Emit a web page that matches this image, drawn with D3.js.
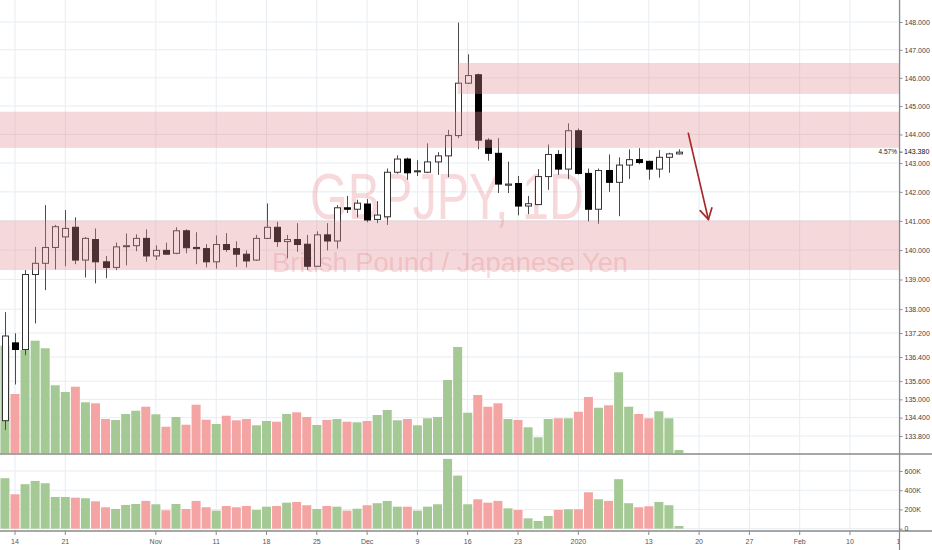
<!DOCTYPE html>
<html>
<head>
<meta charset="utf-8">
<script src="https://cdn.jsdelivr.net/npm/d3@7"></script>
<style>
  html, body { margin: 0; padding: 0; background: #fff; }
  svg { display: block; font-family: "Liberation Sans", Arial, sans-serif; }
</style>
</head>
<body>
<div id="chart"></div>
<script>
// ── Data ─────────────────────────────────────────
const days = [
  "2019-10-11","2019-10-14","2019-10-15","2019-10-16","2019-10-17","2019-10-18",
  "2019-10-21","2019-10-22","2019-10-23","2019-10-24","2019-10-25",
  "2019-10-28","2019-10-29","2019-10-30","2019-10-31","2019-11-01",
  "2019-11-04","2019-11-05","2019-11-06","2019-11-07","2019-11-08",
  "2019-11-11","2019-11-12","2019-11-13","2019-11-14","2019-11-15",
  "2019-11-18","2019-11-19","2019-11-20","2019-11-21","2019-11-22",
  "2019-11-25","2019-11-26","2019-11-27","2019-11-28","2019-11-29",
  "2019-12-02","2019-12-03","2019-12-04","2019-12-05","2019-12-06",
  "2019-12-09","2019-12-10","2019-12-11","2019-12-12","2019-12-13",
  "2019-12-16","2019-12-17","2019-12-18","2019-12-19","2019-12-20",
  "2019-12-23","2019-12-24","2019-12-26","2019-12-27","2019-12-30","2019-12-31",
  "2020-01-02","2020-01-03","2020-01-06","2020-01-07","2020-01-08","2020-01-09","2020-01-10",
  "2020-01-13","2020-01-14","2020-01-15","2020-01-16"
];

const open = [
  134.30,136.87,136.65,139.17,139.55,140.09,140.45,140.78,139.66,140.36,
  139.60,139.41,140.12,140.15,140.40,139.80,139.99,139.89,140.66,140.09,
  140.05,139.60,140.19,140.05,139.86,139.66,140.40,140.78,140.29,140.36,
  140.20,139.45,140.52,140.31,141.45,141.40,141.58,141.05,141.14,142.68,
  143.14,142.70,142.68,143.04,143.25,143.96,145.81,146.11,143.80,143.34,
  142.23,142.29,141.51,141.56,142.53,143.30,142.79,144.13,142.64,141.40,
  142.74,142.33,142.93,143.12,143.06,142.79,143.20,143.32
];
const high = [
  137.90,137.19,139.32,140.11,141.54,140.86,141.37,141.12,140.45,140.74,
  139.80,140.26,140.57,140.54,140.71,140.16,140.25,140.78,140.71,140.61,
  140.20,140.50,140.58,140.30,139.99,140.52,141.60,140.97,140.52,140.92,
  140.52,140.64,140.92,141.54,141.86,141.73,141.75,141.68,142.81,143.27,
  143.19,143.10,143.69,143.38,144.16,147.98,146.84,146.15,143.87,143.87,
  143.05,142.55,141.86,142.79,143.65,143.45,144.39,144.21,142.81,142.81,
  143.30,143.20,143.48,143.52,143.08,143.45,143.36,143.48
];
const low = [
  134.00,135.49,136.46,137.52,138.64,139.34,139.45,139.52,139.07,138.87,
  139.04,139.32,139.48,139.96,139.60,139.66,139.85,139.86,139.89,139.52,
  139.41,139.37,139.94,139.43,139.41,139.63,140.38,140.11,139.72,139.94,
  139.32,139.43,139.99,140.05,141.27,141.12,140.95,140.92,140.86,142.63,
  142.42,142.55,142.65,142.59,142.51,143.87,145.78,143.48,143.08,141.96,
  141.96,141.19,141.23,141.56,142.07,142.59,142.45,142.60,140.98,140.90,
  142.00,141.16,142.45,142.96,142.42,142.49,142.66,143.30
];
const close = [
  137.10,136.65,139.17,139.55,140.09,140.80,140.74,139.66,140.40,139.60,
  139.41,140.11,140.15,140.40,139.80,139.99,139.86,140.66,140.08,140.05,
  139.60,140.19,140.02,139.86,139.63,140.40,140.78,140.29,140.36,140.19,
  139.45,140.52,140.31,141.45,141.40,141.61,141.03,141.20,142.68,143.14,
  142.66,142.73,143.04,143.25,143.96,145.81,146.08,143.80,143.34,142.27,
  142.27,141.51,141.59,142.53,143.30,142.79,144.13,142.64,141.40,142.74,
  142.33,142.93,143.12,143.02,142.79,143.20,143.32,143.38
];

// volume drawn on the price pane (own scale)
const volMain = [
  753,415,723,788,735,476,429,466,357,350,
  240,233,275,298,326,273,186,254,200,340,
  235,205,263,231,240,196,226,221,275,287,
  254,198,233,240,221,217,226,268,303,231,
  240,196,245,254,513,744,284,408,326,350,
  240,233,182,112,240,245,245,291,394,319,
  336,567,326,275,245,294,245,23
];
// volume pane (thousands)
const volPane = [
  525,358,463,497,473,330,330,323,317,285,
  223,205,247,257,289,254,192,257,205,289,
  223,188,236,223,236,195,229,236,271,278,
  244,205,236,229,188,208,244,265,289,229,
  229,188,229,254,726,552,254,306,271,289,
  212,195,108,80,132,195,202,202,379,306,
  289,515,265,223,233,278,244,28
];

const priceTicks = [148,147,146,145,144,143,142,141,140,139,138,137.2,136.4,135.6,135,134.4,133.8];
const volTicks   = [0,200,400,600];
const timeLabels = ["14","21","Nov","11","18","25","Dec","9","16","23","2020","13","20","27","Feb","10","17"];
const timeBars   = [1,6,15,21,26,31,36,41,46,51,57,64,69,74,79,84,89];

// support / resistance zones (start bar, -1 = before chart)
const zoneStart  = [45, -1, -1];
const zoneTop    = [146.53, 144.80, 141.01];
const zoneBottom = [145.43, 143.53, 139.32];

// drawn arrow (bar index, price)
const arrowFrom = [67.93, 144.04];
const arrowTo   = [69.92, 141.05];

const lastPrice  = 143.38;
const lastChange = "4.57%";

// ── Layout ───────────────────────────────────────
const W = 932, H = 550;
const AXIS_X = 899;
const MAIN_BOTTOM = 454;
const PANE_TOP = 455, PANE_BOTTOM = 531;
const GRID = "#e7edf3";
const FONT = "'Liberation Sans', Arial, sans-serif";

const x = d3.scaleLinear().domain([0, 89]).range([4.94, 900.3]);
const y = d3.scaleLog().domain([133.8, 148]).range([436, 22]);
const yVolMain = d3.scaleLinear().domain([0, 1000]).range([453.3, 310.4]);
const yVolPane = d3.scaleLinear().domain([0, 600]).range([528.7, 471]);

const up = i => close[i] >= open[i];
const idx = d3.range(days.length);

const svg = d3.select("#chart").append("svg")
  .attr("width", W).attr("height", H);

svg.append("rect").attr("width", W).attr("height", H).attr("fill", "#fff");

const defs = svg.append("defs");
defs.append("clipPath").attr("id", "clipMain")
  .append("rect").attr("x", 0).attr("y", 0).attr("width", AXIS_X).attr("height", MAIN_BOTTOM);
defs.append("clipPath").attr("id", "clipPane")
  .append("rect").attr("x", 0).attr("y", PANE_TOP).attr("width", AXIS_X).attr("height", PANE_BOTTOM - PANE_TOP);
defs.append("clipPath").attr("id", "clipTime")
  .append("rect").attr("x", 0).attr("y", PANE_BOTTOM).attr("width", AXIS_X).attr("height", H - PANE_BOTTOM);

// ── Grid ─────────────────────────────────────────
const grid = svg.append("g");
grid.selectAll(".vg").data(timeBars).join("line")
  .attr("x1", d => x(d)).attr("x2", d => x(d))
  .attr("y1", 0).attr("y2", PANE_BOTTOM)
  .attr("stroke", GRID).attr("stroke-width", 1);
grid.selectAll(".hg").data(priceTicks).join("line")
  .attr("x1", 0).attr("x2", AXIS_X)
  .attr("y1", d => y(d)).attr("y2", d => y(d))
  .attr("stroke", GRID).attr("stroke-width", 1);
grid.selectAll(".hv").data(volTicks).join("line")
  .attr("x1", 0).attr("x2", AXIS_X)
  .attr("y1", d => yVolPane(d)).attr("y2", d => yVolPane(d))
  .attr("stroke", GRID).attr("stroke-width", 1);

// ── Main pane ────────────────────────────────────
const main = svg.append("g").attr("clip-path", "url(#clipMain)");

// watermark
const wm = main.append("g").attr("fill", "rgb(230,130,138)").attr("fill-opacity", 0.3);
wm.append("text").attr("x", 310).attr("y", 219)
  .attr("font-size", 64).attr("font-family", FONT)
  .attr("textLength", 274).attr("lengthAdjust", "spacingAndGlyphs")
  .text("GBPJPY, 1D");
wm.append("text").attr("x", 272).attr("y", 271.5)
  .attr("font-size", 27).attr("font-family", FONT)
  .attr("textLength", 356).attr("lengthAdjust", "spacingAndGlyphs")
  .text("British Pound / Japanese Yen");

// volume overlay
main.append("g").selectAll("rect").data(idx).join("rect")
  .attr("x", i => x(i) - 4.5).attr("width", 9)
  .attr("y", i => yVolMain(volMain[i]))
  .attr("height", i => yVolMain(0) - yVolMain(volMain[i]))
  .attr("fill", i => up(i) ? "#a4c995" : "#f5a4a4");

// candles
const candles = main.append("g");
candles.selectAll("line").data(idx).join("line")
  .attr("x1", i => Math.round(x(i)) + 0.5).attr("x2", i => Math.round(x(i)) + 0.5)
  .attr("y1", i => y(high[i])).attr("y2", i => y(low[i]))
  .attr("stroke", "#4a4a4a").attr("stroke-width", 1);
candles.selectAll("rect").data(idx).join("rect")
  .attr("x", i => Math.round(x(i)) - 2.5).attr("width", 6)
  .attr("y", i => y(Math.max(open[i], close[i])))
  .attr("height", i => Math.max(1, Math.abs(y(open[i]) - y(close[i]))))
  .attr("fill", i => up(i) ? "#fff" : "#000")
  .attr("stroke", i => up(i) ? "#333" : "#000").attr("stroke-width", 1);

// zones
main.append("g").selectAll("rect").data(zoneTop).join("rect")
  .attr("x", (d, i) => zoneStart[i] < 0 ? 0 : x(zoneStart[i]))
  .attr("width", (d, i) => AXIS_X - (zoneStart[i] < 0 ? 0 : x(zoneStart[i])))
  .attr("y", d => y(d))
  .attr("height", (d, i) => y(zoneBottom[i]) - y(d))
  .attr("fill", "rgb(226,140,148)").attr("fill-opacity", 0.34);

// arrow
const ax1 = x(arrowFrom[0]), ay1 = y(arrowFrom[1]);
const ax2 = x(arrowTo[0]),   ay2 = y(arrowTo[1]);
const ang = Math.atan2(ay2 - ay1, ax2 - ax1);
const headLen = 12, headAng = Math.PI / 6;
const arrow = main.append("g").attr("stroke", "#a82828").attr("stroke-width", 1.7)
  .attr("fill", "none").attr("stroke-linecap", "round");
arrow.append("line").attr("x1", ax1).attr("y1", ay1).attr("x2", ax2).attr("y2", ay2);
[-headAng, headAng].forEach(a => {
  arrow.append("line").attr("x1", ax2).attr("y1", ay2)
    .attr("x2", ax2 - headLen * Math.cos(ang + a))
    .attr("y2", ay2 - headLen * Math.sin(ang + a));
});

// ── Volume pane ──────────────────────────────────
svg.append("g").attr("clip-path", "url(#clipPane)")
  .selectAll("rect").data(idx).join("rect")
  .attr("x", i => x(i) - 4.5).attr("width", 9)
  .attr("y", i => yVolPane(volPane[i]))
  .attr("height", i => yVolPane(0) - yVolPane(volPane[i]))
  .attr("fill", i => up(i) ? "#a4c995" : "#f5a4a4");

// ── Frame lines ──────────────────────────────────
svg.append("line").attr("x1", 0).attr("x2", W).attr("y1", MAIN_BOTTOM).attr("y2", MAIN_BOTTOM)
  .attr("stroke", "#8a8a8a").attr("stroke-width", 1.5);
svg.append("line").attr("x1", 0).attr("x2", W).attr("y1", PANE_BOTTOM).attr("y2", PANE_BOTTOM)
  .attr("stroke", "#8a8a8a").attr("stroke-width", 1.5);
svg.append("line").attr("x1", AXIS_X + 0.5).attr("x2", AXIS_X + 0.5).attr("y1", 0).attr("y2", H)
  .attr("stroke", "#8a8a8a").attr("stroke-width", 1.2);

// ── Price axis ───────────────────────────────────
const yAxis = svg.append("g")
  .attr("transform", `translate(${AXIS_X + 0.5},0)`)
  .call(d3.axisRight(y).tickValues(priceTicks).tickFormat(d3.format(".3f"))
    .tickSize(3).tickPadding(2));
yAxis.select(".domain").remove();
yAxis.selectAll(".tick line").attr("stroke", "#8a8a8a");
yAxis.selectAll("text").attr("font-size", "7px").attr("font-family", FONT).attr("fill", "#444");

// last price marker
const lp = svg.append("g").attr("transform", `translate(0,${y(lastPrice)})`);
lp.append("line").attr("x1", AXIS_X + 0.5).attr("x2", AXIS_X + 3.5)
  .attr("stroke", "#555").attr("stroke-width", 1);
lp.append("text").attr("x", AXIS_X + 5).attr("dy", "0.32em")
  .attr("font-size", "7px").attr("font-family", FONT).attr("fill", "#111")
  .text(d3.format(".3f")(lastPrice));
lp.append("text").attr("x", AXIS_X - 2).attr("dy", "0.32em").attr("text-anchor", "end")
  .attr("font-size", "6.5px").attr("font-family", FONT).attr("fill", "#222")
  .text(lastChange);

// ── Volume axis ──────────────────────────────────
const vAxis = svg.append("g")
  .attr("transform", `translate(${AXIS_X + 0.5},0)`)
  .call(d3.axisRight(yVolPane).tickValues(volTicks).tickFormat(d => d === 0 ? "0" : d + "K")
    .tickSize(3).tickPadding(2));
vAxis.select(".domain").remove();
vAxis.selectAll(".tick line").attr("stroke", "#8a8a8a");
vAxis.selectAll("text").attr("font-size", "7px").attr("font-family", FONT).attr("fill", "#444");

// ── Time axis ────────────────────────────────────
const tAxis = svg.append("g").attr("clip-path", "url(#clipTime)");
tAxis.selectAll("line").data(timeBars).join("line")
  .attr("x1", d => x(d)).attr("x2", d => x(d))
  .attr("y1", PANE_BOTTOM).attr("y2", PANE_BOTTOM + 4)
  .attr("stroke", "#8a8a8a");
tAxis.selectAll("text").data(timeBars).join("text")
  .attr("x", d => x(d)).attr("y", 542).attr("dy", "0.32em")
  .attr("text-anchor", "middle")
  .attr("font-size", "7px").attr("font-family", FONT).attr("fill", "#555")
  .text((d, i) => timeLabels[i]);
</script>
</body>
</html>
